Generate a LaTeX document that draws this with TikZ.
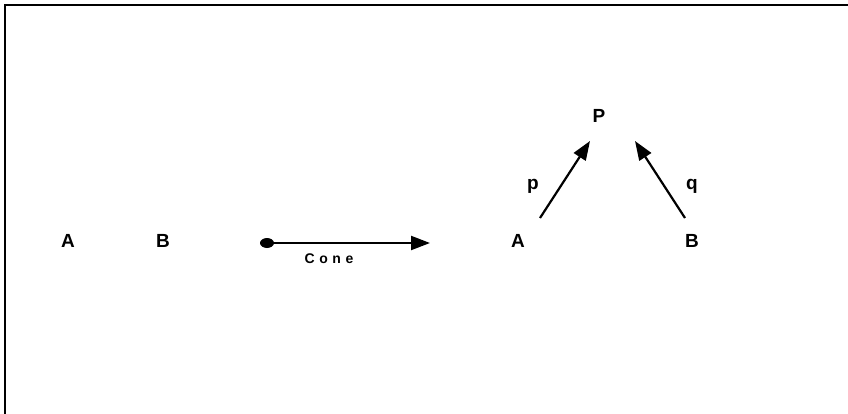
\documentclass[tikz,border=0pt]{standalone}
\usepackage{fontspec}
\setmainfont{Liberation Sans}
\usetikzlibrary{arrows.meta}
\begin{document}
\begin{tikzpicture}[x=1pt,y=-1pt,
  lbl/.style={font=\fontsize{19}{19}\selectfont\bfseries, inner sep=0pt},
  arr/.style={line width=2.2pt, -{Triangle[length=19pt,width=14pt]}}]
\useasboundingbox (0,0) rectangle (848,414);
\draw[line width=2.4pt] (5,414) -- (5,5) -- (848,5);
\node[lbl] (a1) at (68,241) {A};
\node[lbl] (b1) at (163,241) {B};
\coordinate (s) at (267,243);
\coordinate (e) at (430,243);
\fill (s) ellipse (7pt and 5pt);
\draw[arr] (s) -- (e);
\node[font=\fontsize{14}{14}\selectfont\bfseries, inner sep=0pt] (cone) at (329,259) {C\,\,o\,\,n\,\,e};
\node[lbl] (a2) at (518,241) {A};
\node[lbl] (b2) at (692,241) {B};
\node[lbl] (p) at (599,116) {P};
\coordinate (pa) at (540,218);
\coordinate (pt) at (590,141);
\coordinate (qa) at (685,218);
\coordinate (qt) at (635,141);
\draw[arr] (pa) -- (pt);
\draw[arr] (qa) -- (qt);
\node[lbl] (pl) at (533,186) {p};
\node[lbl] (ql) at (692,186) {q};
\end{tikzpicture}
\end{document}
